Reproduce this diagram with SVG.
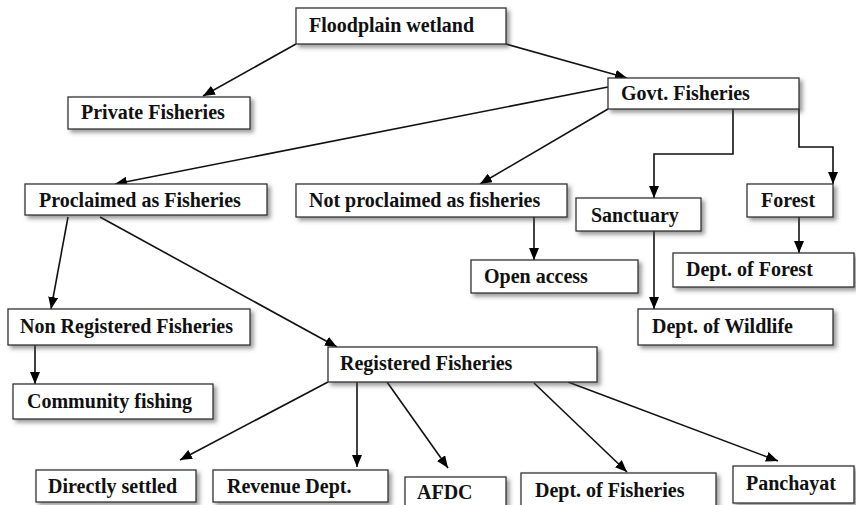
<svg xmlns="http://www.w3.org/2000/svg" width="856" height="505" viewBox="0 0 856 505">
<defs>
<filter id="sh" x="-10%" y="-30%" width="125%" height="180%">
<feDropShadow dx="3" dy="3" stdDeviation="2" flood-color="#444" flood-opacity="0.55"/>
</filter>
<marker id="ah" markerUnits="userSpaceOnUse" markerWidth="12" markerHeight="10" viewBox="0 0 12 10" refX="12" refY="5" orient="auto">
<path d="M0,0 L12,5 L0,10 Z" fill="#000"/>
</marker>
<style>
rect{fill:#fff;stroke:#333;stroke-width:1.3;filter:url(#sh)}
text{font-family:"Liberation Serif","Times New Roman",serif;font-weight:bold;font-size:20px;fill:#111}
#connectors path{fill:none;stroke:#111;stroke-width:1.6;marker-end:url(#ah)}
</style>
</defs>
<rect x="0" y="0" width="856" height="505" style="fill:#fff;stroke:none;filter:none"/>
<g id="connectors">
<path d="M296,44 L203,96"/>
<path d="M506,44 L627,78"/>
<path d="M608,87 L115,184"/>
<path d="M608,109 L480,184"/>
<path d="M733,109 V154 H654 V198"/>
<path d="M799,109 V147 H833 V184"/>
<path d="M534,217 V260"/>
<path d="M654,231 V309"/>
<path d="M799,217 V253"/>
<path d="M68,217 L51,309"/>
<path d="M100,217 L337,347"/>
<path d="M35,345 V384"/>
<path d="M328,382 L180,460"/>
<path d="M357,382 V467"/>
<path d="M387,382 L448,468"/>
<path d="M534,383 L627,472"/>
<path d="M568,382 L778,461"/>
</g>
<g id="floodplain"><rect x="296" y="8" width="210" height="36"/><text x="309" y="32">Floodplain wetland</text></g>
<g id="private"><rect x="68" y="97" width="182" height="32"/><text x="81" y="119">Private Fisheries</text></g>
<g id="govt"><rect x="608" y="78" width="191" height="31"/><text x="621" y="100">Govt. Fisheries</text></g>
<g id="proclaimed"><rect x="25" y="184" width="242" height="31"/><text x="39" y="207">Proclaimed as Fisheries</text></g>
<g id="notproclaimed"><rect x="296" y="184" width="271" height="33"/><text x="309" y="207">Not proclaimed as fisheries</text></g>
<g id="sanctuary"><rect x="576" y="198" width="125" height="33"/><text x="591" y="222">Sanctuary</text></g>
<g id="forest"><rect x="747" y="184" width="86" height="33"/><text x="761" y="207">Forest</text></g>
<g id="openaccess"><rect x="471" y="260" width="167" height="33"/><text x="484" y="283">Open access</text></g>
<g id="deptforest"><rect x="673" y="253" width="181" height="34"/><text x="686" y="276">Dept. of Forest</text></g>
<g id="wildlife"><rect x="638" y="309" width="195" height="36"/><text x="652" y="333">Dept. of Wildlife</text></g>
<g id="nonregistered"><rect x="8" y="309" width="242" height="36"/><text x="20" y="333">Non Registered Fisheries</text></g>
<g id="registered"><rect x="328" y="347" width="269" height="35"/><text x="340" y="370">Registered Fisheries</text></g>
<g id="community"><rect x="13" y="384" width="200" height="35"/><text x="27" y="408">Community fishing</text></g>
<g id="directly"><rect x="36" y="470" width="160" height="32"/><text x="48" y="493">Directly settled</text></g>
<g id="revenue"><rect x="213" y="470" width="175" height="32"/><text x="227" y="493">Revenue Dept.</text></g>
<g id="afdc"><rect x="405" y="477" width="101" height="32"/><text x="417" y="499">AFDC</text></g>
<g id="deptfisheries"><rect x="521" y="473" width="195" height="34"/><text x="535" y="497">Dept. of Fisheries</text></g>
<g id="panchayat"><rect x="733" y="466" width="121" height="37"/><text x="746" y="490">Panchayat</text></g>
</svg>
